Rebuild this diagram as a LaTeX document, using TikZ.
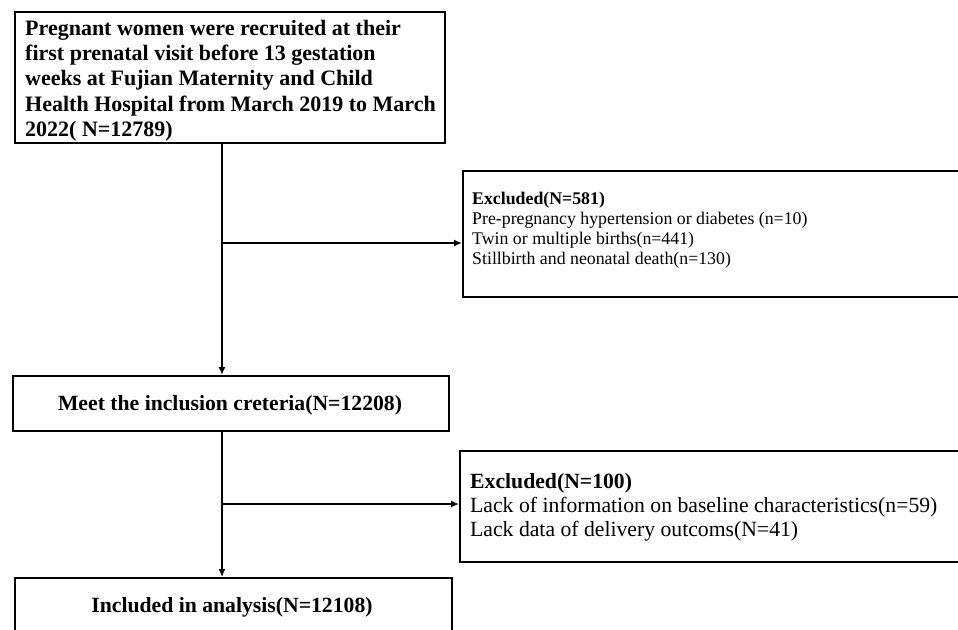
\documentclass[tikz,border=0pt]{standalone}
\usepackage{fontspec}
\setmainfont{Liberation Serif}
\usetikzlibrary{arrows.meta}
\begin{document}
\begin{tikzpicture}[x=1pt,y=-1pt,
  box/.style={draw, line width=2.2pt, rectangle, inner sep=0pt, anchor=north west},
  arr/.style={line width=1.8pt, -{Latex[length=8pt,width=7pt]}},
  txt/.style={inner sep=0pt, align=left},
]
\useasboundingbox (0,0) rectangle (958,629);
\clip (0,0) rectangle (958,629);
% boxes
\node[box, minimum width=430pt, minimum height=131pt] (b1) at (14,11) {};
\node[box, minimum width=500pt, minimum height=126pt] (e1) at (462,170) {};
\node[box, minimum width=436pt, minimum height=55pt] (meet) at (12,375) {};
\node[box, minimum width=503pt, minimum height=111pt] (e2) at (459,449.5) {};
\node[box, minimum width=437pt, minimum height=56pt] (inc) at (14,577) {};
% texts
\node[txt, anchor=base west, text width=425pt, font=\fontsize{22}{25.4}\selectfont\bfseries] (t1) at (25,35)
  {\spaceskip=0pt\xspaceskip=0pt
   Pregnant women were recruited at their\\
   first prenatal visit before 13 gestation\\
   weeks at Fujian Maternity and Child\\
   Health Hospital from March 2019 to March\\
   2022( N=12789)};
\node[txt, anchor=base west, text width=480pt, font=\fontsize{17.8}{20.3}\selectfont] (te1) at (472,204)
  {\spaceskip=0pt\xspaceskip=0pt
   \textbf{Excluded(N=581)}\\
   Pre-pregnancy hypertension or diabetes (n=10)\\
   Twin or multiple births(n=441)\\
   Stillbirth and neonatal death(n=130)};
\node[txt, anchor=base, font=\fontsize{21.7}{23}\selectfont\bfseries] (tm) at (230,410)
  {Meet the inclusion creteria(N=12208)};
\node[txt, anchor=base west, text width=480pt, font=\fontsize{21.7}{24}\selectfont] (te2) at (470,488)
  {\spaceskip=0pt\xspaceskip=0pt
   \textbf{Excluded(N=100)}\\
   Lack of information on baseline characteristics(n=59)\\
   Lack data of delivery outcoms(N=41)};
\node[txt, anchor=base, font=\fontsize{21.7}{23}\selectfont\bfseries] (ti) at (232,612)
  {Included in analysis(N=12108)};
% connectors
\coordinate (sp) at (222,0);
\coordinate (j1) at (222,243);
\coordinate (j2) at (222,504);
\draw[arr] (b1.south -| sp) -- (meet.north -| sp);
\draw[arr] (j1) -- (j1 -| e1.west);
\draw[arr] (meet.south -| sp) -- (inc.north -| sp);
\draw[arr] (j2) -- (j2 -| e2.west);
\end{tikzpicture}
\end{document}
